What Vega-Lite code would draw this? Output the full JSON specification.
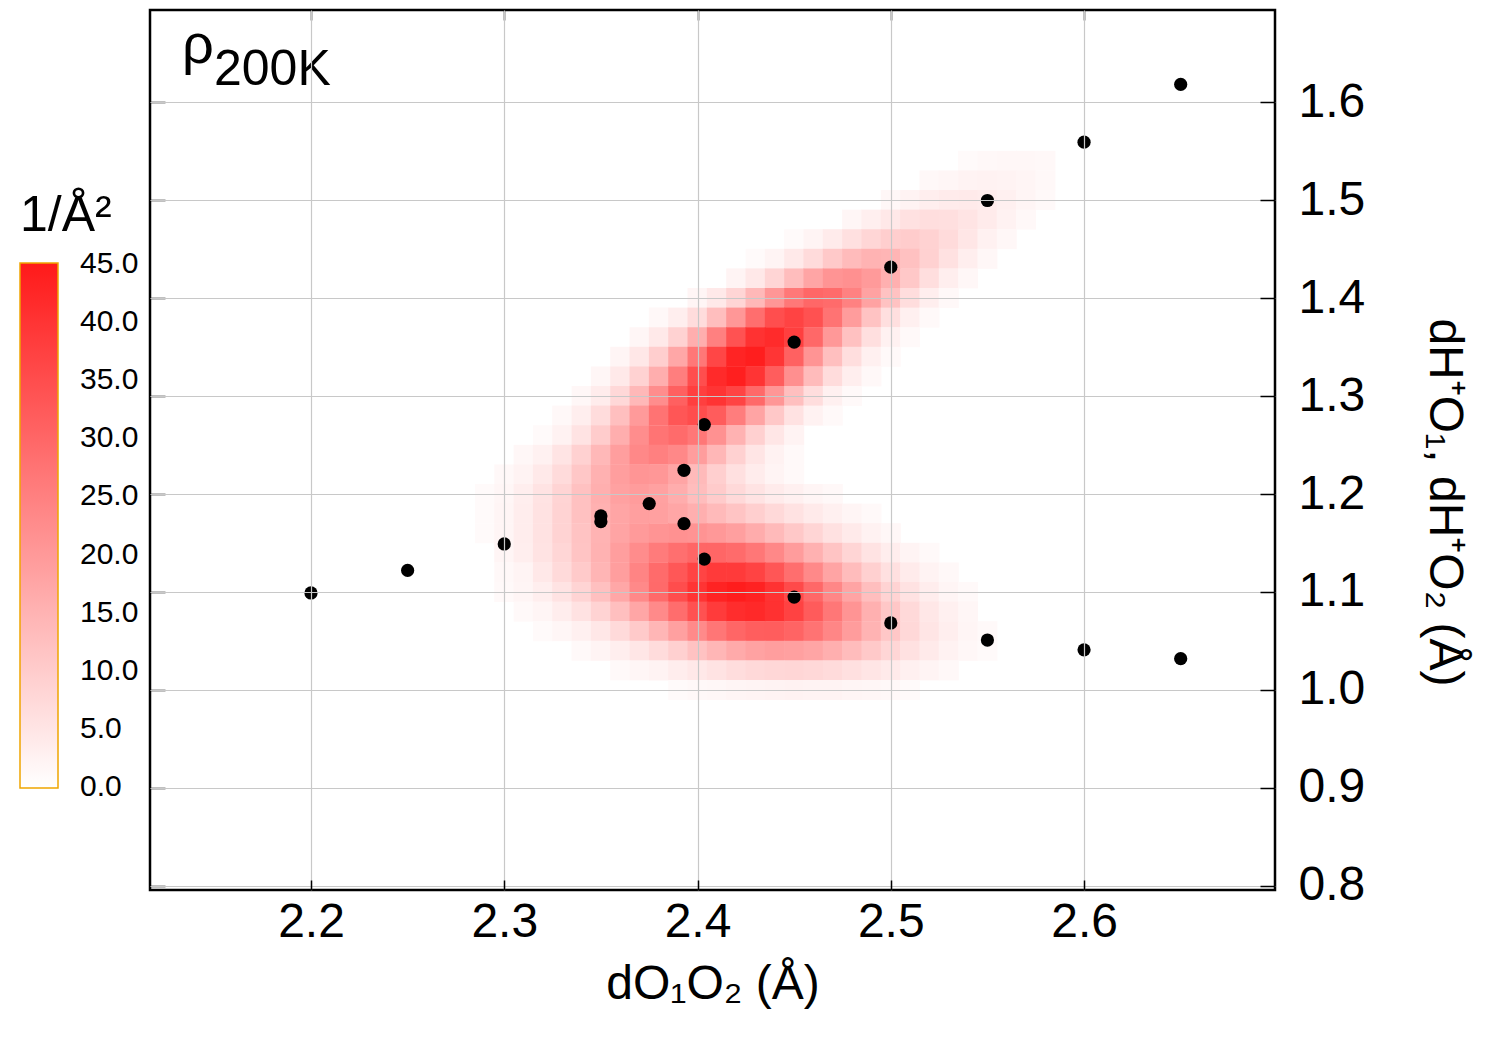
{
"$schema":"https://vega.github.io/schema/vega-lite/v6.json",
"width":1125,"height":880,
"autosize":{"type":"none"},
"padding":{"left":150,"top":10,"right":225,"bottom":160},
"background":"white",
"config":{
"font":"Liberation Sans",
"view":{"stroke":"black","strokeWidth":2.5},
"axis":{"domain":false,"grid":false,"ticks":true,"tickColor":"black","tickWidth":1.5,"labelFont":"Liberation Sans","labelColor":"black","labelFontSize":48,"titleFont":"Liberation Sans","titleFontSize":48,"titleFontWeight":"normal","titleColor":"black","gridColor":"#c8c8c8","gridWidth":1.2,"gridOpacity":1}
},
"datasets":{
"points":[{"x":2.2,"y":1.099},{"x":2.25,"y":1.122},{"x":2.3,"y":1.149},{"x":2.35,"y":1.1776},{"x":2.35,"y":1.1718},{"x":2.375,"y":1.1902},{"x":2.393,"y":1.2242},{"x":2.393,"y":1.1697},{"x":2.4035,"y":1.2708},{"x":2.4035,"y":1.1336},{"x":2.45,"y":1.355},{"x":2.45,"y":1.0948},{"x":2.5,"y":1.4315},{"x":2.5,"y":1.0684},{"x":2.55,"y":1.4995},{"x":2.55,"y":1.051},{"x":2.6,"y":1.559},{"x":2.6,"y":1.041},{"x":2.65,"y":1.618},{"x":2.65,"y":1.032}],
"density":[
{"x":2.54,"y":1.54,"v":1.0},{"x":2.55,"y":1.54,"v":1.3},{"x":2.56,"y":1.54,"v":1.5},{"x":2.57,"y":1.54,"v":1.5},{"x":2.58,"y":1.54,"v":1.3},
{"x":2.52,"y":1.52,"v":1.3},{"x":2.53,"y":1.52,"v":1.8},{"x":2.54,"y":1.52,"v":2.3},{"x":2.55,"y":1.52,"v":2.5},{"x":2.56,"y":1.52,"v":2.4},{"x":2.57,"y":1.52,"v":2.0},{"x":2.58,"y":1.52,"v":1.4},
{"x":2.50,"y":1.50,"v":1.5},{"x":2.51,"y":1.50,"v":2.3},{"x":2.52,"y":1.50,"v":3.2},{"x":2.53,"y":1.50,"v":3.8},{"x":2.54,"y":1.50,"v":4.0},{"x":2.55,"y":1.50,"v":3.6},{"x":2.56,"y":1.50,"v":2.9},{"x":2.57,"y":1.50,"v":2.0},{"x":2.58,"y":1.50,"v":1.2},
{"x":2.48,"y":1.48,"v":1.8},{"x":2.49,"y":1.48,"v":3.1},{"x":2.50,"y":1.48,"v":4.5},{"x":2.51,"y":1.48,"v":5.8},{"x":2.52,"y":1.48,"v":6.5},{"x":2.53,"y":1.48,"v":6.3},{"x":2.54,"y":1.48,"v":5.3},{"x":2.55,"y":1.48,"v":3.9},{"x":2.56,"y":1.48,"v":2.5},{"x":2.57,"y":1.48,"v":1.4},
{"x":2.45,"y":1.46,"v":1.0},{"x":2.46,"y":1.46,"v":2.1},{"x":2.47,"y":1.46,"v":3.8},{"x":2.48,"y":1.46,"v":6.0},{"x":2.49,"y":1.46,"v":8.1},{"x":2.50,"y":1.46,"v":9.6},{"x":2.51,"y":1.46,"v":10.0},{"x":2.52,"y":1.46,"v":8.9},{"x":2.53,"y":1.46,"v":7.0},{"x":2.54,"y":1.46,"v":4.8},{"x":2.55,"y":1.46,"v":2.8},{"x":2.56,"y":1.46,"v":1.5},
{"x":2.43,"y":1.44,"v":1.0},{"x":2.44,"y":1.44,"v":2.2},{"x":2.45,"y":1.44,"v":4.2},{"x":2.46,"y":1.44,"v":7.1},{"x":2.47,"y":1.44,"v":10.5},{"x":2.48,"y":1.44,"v":13.4},{"x":2.49,"y":1.44,"v":14.9},{"x":2.50,"y":1.44,"v":14.5},{"x":2.51,"y":1.44,"v":12.2},{"x":2.52,"y":1.44,"v":9.0},{"x":2.53,"y":1.44,"v":5.8},{"x":2.54,"y":1.44,"v":3.2},{"x":2.55,"y":1.44,"v":1.6},
{"x":2.42,"y":1.42,"v":2.2},{"x":2.43,"y":1.42,"v":4.5},{"x":2.44,"y":1.42,"v":8.2},{"x":2.45,"y":1.42,"v":12.9},{"x":2.46,"y":1.42,"v":17.7},{"x":2.47,"y":1.42,"v":21.1},{"x":2.48,"y":1.42,"v":21.9},{"x":2.49,"y":1.42,"v":19.8},{"x":2.50,"y":1.42,"v":15.6},{"x":2.51,"y":1.42,"v":10.8},{"x":2.52,"y":1.42,"v":6.4},{"x":2.53,"y":1.42,"v":3.3},{"x":2.54,"y":1.42,"v":1.5},
{"x":2.40,"y":1.40,"v":1.9},{"x":2.41,"y":1.40,"v":4.3},{"x":2.42,"y":1.40,"v":8.2},{"x":2.43,"y":1.40,"v":13.9},{"x":2.44,"y":1.40,"v":20.6},{"x":2.45,"y":1.40,"v":26.5},{"x":2.46,"y":1.40,"v":29.8},{"x":2.47,"y":1.40,"v":29.1},{"x":2.48,"y":1.40,"v":24.8},{"x":2.49,"y":1.40,"v":18.3},{"x":2.50,"y":1.40,"v":11.9},{"x":2.51,"y":1.40,"v":6.7},{"x":2.52,"y":1.40,"v":3.2},{"x":2.53,"y":1.40,"v":1.4},
{"x":2.38,"y":1.38,"v":1.3},{"x":2.39,"y":1.38,"v":3.2},{"x":2.40,"y":1.38,"v":6.9},{"x":2.41,"y":1.38,"v":12.7},{"x":2.42,"y":1.38,"v":20.4},{"x":2.43,"y":1.38,"v":28.6},{"x":2.44,"y":1.38,"v":34.8},{"x":2.45,"y":1.38,"v":37.0},{"x":2.46,"y":1.38,"v":34.2},{"x":2.47,"y":1.38,"v":27.6},{"x":2.48,"y":1.38,"v":19.4},{"x":2.49,"y":1.38,"v":11.8},{"x":2.50,"y":1.38,"v":6.3},{"x":2.51,"y":1.38,"v":2.9},{"x":2.52,"y":1.38,"v":1.2},
{"x":2.37,"y":1.36,"v":1.8},{"x":2.38,"y":1.36,"v":4.3},{"x":2.39,"y":1.36,"v":8.9},{"x":2.40,"y":1.36,"v":15.9},{"x":2.41,"y":1.36,"v":24.9},{"x":2.42,"y":1.36,"v":34.1},{"x":2.43,"y":1.36,"v":40.4},{"x":2.44,"y":1.36,"v":41.8},{"x":2.45,"y":1.36,"v":37.7},{"x":2.46,"y":1.36,"v":29.6},{"x":2.47,"y":1.36,"v":20.2},{"x":2.48,"y":1.36,"v":12.1},{"x":2.49,"y":1.36,"v":6.2},{"x":2.50,"y":1.36,"v":2.8},{"x":2.51,"y":1.36,"v":1.1},
{"x":2.36,"y":1.34,"v":2.0},{"x":2.37,"y":1.34,"v":4.7},{"x":2.38,"y":1.34,"v":9.6},{"x":2.39,"y":1.34,"v":17.2},{"x":2.40,"y":1.34,"v":26.8},{"x":2.41,"y":1.34,"v":36.4},{"x":2.42,"y":1.34,"v":43.0},{"x":2.43,"y":1.34,"v":44.2},{"x":2.44,"y":1.34,"v":39.7},{"x":2.45,"y":1.34,"v":31.0},{"x":2.46,"y":1.34,"v":21.0},{"x":2.47,"y":1.34,"v":12.5},{"x":2.48,"y":1.34,"v":6.5},{"x":2.49,"y":1.34,"v":2.9},{"x":2.50,"y":1.34,"v":1.1},
{"x":2.35,"y":1.32,"v":1.8},{"x":2.36,"y":1.32,"v":4.2},{"x":2.37,"y":1.32,"v":8.8},{"x":2.38,"y":1.32,"v":16.0},{"x":2.39,"y":1.32,"v":25.3},{"x":2.40,"y":1.32,"v":34.9},{"x":2.41,"y":1.32,"v":41.9},{"x":2.42,"y":1.32,"v":44.0},{"x":2.43,"y":1.32,"v":40.0},{"x":2.44,"y":1.32,"v":31.8},{"x":2.45,"y":1.32,"v":22.0},{"x":2.46,"y":1.32,"v":13.3},{"x":2.47,"y":1.32,"v":6.9},{"x":2.48,"y":1.32,"v":3.2},{"x":2.49,"y":1.32,"v":1.3},
{"x":2.34,"y":1.30,"v":1.5},{"x":2.35,"y":1.30,"v":3.6},{"x":2.36,"y":1.30,"v":7.6},{"x":2.37,"y":1.30,"v":14.0},{"x":2.38,"y":1.30,"v":22.4},{"x":2.39,"y":1.30,"v":31.2},{"x":2.40,"y":1.30,"v":37.8},{"x":2.41,"y":1.30,"v":40.0},{"x":2.42,"y":1.30,"v":36.8},{"x":2.43,"y":1.30,"v":29.5},{"x":2.44,"y":1.30,"v":20.6},{"x":2.45,"y":1.30,"v":12.6},{"x":2.46,"y":1.30,"v":6.6},{"x":2.47,"y":1.30,"v":3.0},{"x":2.48,"y":1.30,"v":1.2},
{"x":2.33,"y":1.28,"v":1.3},{"x":2.34,"y":1.28,"v":3.2},{"x":2.35,"y":1.28,"v":6.8},{"x":2.36,"y":1.28,"v":12.5},{"x":2.37,"y":1.28,"v":19.8},{"x":2.38,"y":1.28,"v":27.5},{"x":2.39,"y":1.28,"v":33.3},{"x":2.40,"y":1.28,"v":35.0},{"x":2.41,"y":1.28,"v":32.0},{"x":2.42,"y":1.28,"v":25.6},{"x":2.43,"y":1.28,"v":17.8},{"x":2.44,"y":1.28,"v":10.7},{"x":2.45,"y":1.28,"v":5.7},{"x":2.46,"y":1.28,"v":2.6},{"x":2.47,"y":1.28,"v":1.1},
{"x":2.32,"y":1.26,"v":1.0},{"x":2.33,"y":1.26,"v":2.6},{"x":2.34,"y":1.26,"v":5.4},{"x":2.35,"y":1.26,"v":9.9},{"x":2.36,"y":1.26,"v":16.0},{"x":2.37,"y":1.26,"v":22.4},{"x":2.38,"y":1.26,"v":27.3},{"x":2.39,"y":1.26,"v":29.0},{"x":2.40,"y":1.26,"v":26.8},{"x":2.41,"y":1.26,"v":21.6},{"x":2.42,"y":1.26,"v":15.1},{"x":2.43,"y":1.26,"v":9.2},{"x":2.44,"y":1.26,"v":4.9},{"x":2.45,"y":1.26,"v":2.3},
{"x":2.31,"y":1.24,"v":1.5},{"x":2.32,"y":1.24,"v":2.8},{"x":2.33,"y":1.24,"v":5.2},{"x":2.34,"y":1.24,"v":9.0},{"x":2.35,"y":1.24,"v":13.9},{"x":2.36,"y":1.24,"v":19.1},{"x":2.37,"y":1.24,"v":23.3},{"x":2.38,"y":1.24,"v":25.0},{"x":2.39,"y":1.24,"v":23.4},{"x":2.40,"y":1.24,"v":19.3},{"x":2.41,"y":1.24,"v":14.1},{"x":2.42,"y":1.24,"v":9.0},{"x":2.43,"y":1.24,"v":5.1},{"x":2.44,"y":1.24,"v":2.6},{"x":2.45,"y":1.24,"v":1.2},
{"x":2.30,"y":1.22,"v":1.3},{"x":2.31,"y":1.22,"v":2.4},{"x":2.32,"y":1.22,"v":4.3},{"x":2.33,"y":1.22,"v":7.1},{"x":2.34,"y":1.22,"v":11.0},{"x":2.35,"y":1.22,"v":15.3},{"x":2.36,"y":1.22,"v":19.0},{"x":2.37,"y":1.22,"v":20.9},{"x":2.38,"y":1.22,"v":20.4},{"x":2.39,"y":1.22,"v":17.7},{"x":2.40,"y":1.22,"v":13.6},{"x":2.41,"y":1.22,"v":9.4},{"x":2.42,"y":1.22,"v":6.0},{"x":2.43,"y":1.22,"v":3.6},{"x":2.44,"y":1.22,"v":2.1},{"x":2.45,"y":1.22,"v":1.2},
{"x":2.29,"y":1.20,"v":1.0},{"x":2.30,"y":1.20,"v":1.8},{"x":2.31,"y":1.20,"v":3.2},{"x":2.32,"y":1.20,"v":5.4},{"x":2.33,"y":1.20,"v":8.5},{"x":2.34,"y":1.20,"v":12.2},{"x":2.35,"y":1.20,"v":15.8},{"x":2.36,"y":1.20,"v":18.4},{"x":2.37,"y":1.20,"v":19.4},{"x":2.38,"y":1.20,"v":18.4},{"x":2.39,"y":1.20,"v":16.1},{"x":2.40,"y":1.20,"v":13.0},{"x":2.41,"y":1.20,"v":10.1},{"x":2.42,"y":1.20,"v":7.5},{"x":2.43,"y":1.20,"v":5.5},{"x":2.44,"y":1.20,"v":3.9},{"x":2.45,"y":1.20,"v":2.9},{"x":2.46,"y":1.20,"v":1.9},{"x":2.47,"y":1.20,"v":1.3},
{"x":2.29,"y":1.18,"v":1.0},{"x":2.30,"y":1.18,"v":2.0},{"x":2.31,"y":1.18,"v":3.4},{"x":2.32,"y":1.18,"v":5.7},{"x":2.33,"y":1.18,"v":8.7},{"x":2.34,"y":1.18,"v":12.1},{"x":2.35,"y":1.18,"v":15.4},{"x":2.36,"y":1.18,"v":17.7},{"x":2.37,"y":1.18,"v":18.9},{"x":2.38,"y":1.18,"v":18.6},{"x":2.39,"y":1.18,"v":17.4},{"x":2.40,"y":1.18,"v":15.7},{"x":2.41,"y":1.18,"v":13.6},{"x":2.42,"y":1.18,"v":11.5},{"x":2.43,"y":1.18,"v":9.5},{"x":2.44,"y":1.18,"v":7.4},{"x":2.45,"y":1.18,"v":5.7},{"x":2.46,"y":1.18,"v":4.1},{"x":2.47,"y":1.18,"v":2.9},{"x":2.48,"y":1.18,"v":1.9},{"x":2.49,"y":1.18,"v":1.2},
{"x":2.29,"y":1.16,"v":1.0},{"x":2.30,"y":1.16,"v":2.0},{"x":2.31,"y":1.16,"v":3.5},{"x":2.32,"y":1.16,"v":5.7},{"x":2.33,"y":1.16,"v":8.6},{"x":2.34,"y":1.16,"v":11.8},{"x":2.35,"y":1.16,"v":15.0},{"x":2.36,"y":1.16,"v":17.8},{"x":2.37,"y":1.16,"v":19.8},{"x":2.38,"y":1.16,"v":21.1},{"x":2.39,"y":1.16,"v":21.6},{"x":2.40,"y":1.16,"v":21.3},{"x":2.41,"y":1.16,"v":20.3},{"x":2.42,"y":1.16,"v":18.9},{"x":2.43,"y":1.16,"v":16.2},{"x":2.44,"y":1.16,"v":13.6},{"x":2.45,"y":1.16,"v":10.8},{"x":2.46,"y":1.16,"v":8.2},{"x":2.47,"y":1.16,"v":5.9},{"x":2.48,"y":1.16,"v":4.0},{"x":2.49,"y":1.16,"v":2.6},{"x":2.50,"y":1.16,"v":1.6},
{"x":2.30,"y":1.14,"v":1.9},{"x":2.31,"y":1.14,"v":3.3},{"x":2.32,"y":1.14,"v":5.4},{"x":2.33,"y":1.14,"v":8.1},{"x":2.34,"y":1.14,"v":11.5},{"x":2.35,"y":1.14,"v":15.2},{"x":2.36,"y":1.14,"v":19.0},{"x":2.37,"y":1.14,"v":22.6},{"x":2.38,"y":1.14,"v":25.9},{"x":2.39,"y":1.14,"v":28.4},{"x":2.40,"y":1.14,"v":30.0},{"x":2.41,"y":1.14,"v":30.0},{"x":2.42,"y":1.14,"v":29.1},{"x":2.43,"y":1.14,"v":26.8},{"x":2.44,"y":1.14,"v":23.4},{"x":2.45,"y":1.14,"v":19.4},{"x":2.46,"y":1.14,"v":15.3},{"x":2.47,"y":1.14,"v":11.5},{"x":2.48,"y":1.14,"v":8.2},{"x":2.49,"y":1.14,"v":5.5},{"x":2.50,"y":1.14,"v":3.5},{"x":2.51,"y":1.14,"v":2.1},{"x":2.52,"y":1.14,"v":1.2},
{"x":2.30,"y":1.12,"v":1.3},{"x":2.31,"y":1.12,"v":2.2},{"x":2.32,"y":1.12,"v":4.5},{"x":2.33,"y":1.12,"v":7.2},{"x":2.34,"y":1.12,"v":10.4},{"x":2.35,"y":1.12,"v":14.5},{"x":2.36,"y":1.12,"v":19.1},{"x":2.37,"y":1.12,"v":24.1},{"x":2.38,"y":1.12,"v":29.1},{"x":2.39,"y":1.12,"v":33.1},{"x":2.40,"y":1.12,"v":36.7},{"x":2.41,"y":1.12,"v":38.7},{"x":2.42,"y":1.12,"v":38.8},{"x":2.43,"y":1.12,"v":36.9},{"x":2.44,"y":1.12,"v":33.3},{"x":2.45,"y":1.12,"v":28.5},{"x":2.46,"y":1.12,"v":23.2},{"x":2.47,"y":1.12,"v":17.9},{"x":2.48,"y":1.12,"v":13.2},{"x":2.49,"y":1.12,"v":9.2},{"x":2.50,"y":1.12,"v":6.1},{"x":2.51,"y":1.12,"v":3.8},{"x":2.52,"y":1.12,"v":2.3},{"x":2.53,"y":1.12,"v":1.3},
{"x":2.30,"y":1.10,"v":1.1},{"x":2.31,"y":1.10,"v":1.9},{"x":2.32,"y":1.10,"v":3.3},{"x":2.33,"y":1.10,"v":5.4},{"x":2.34,"y":1.10,"v":8.4},{"x":2.35,"y":1.10,"v":12.3},{"x":2.36,"y":1.10,"v":17.3},{"x":2.37,"y":1.10,"v":23.1},{"x":2.38,"y":1.10,"v":29.2},{"x":2.39,"y":1.10,"v":35.1},{"x":2.40,"y":1.10,"v":40.0},{"x":2.41,"y":1.10,"v":43.3},{"x":2.42,"y":1.10,"v":44.5},{"x":2.43,"y":1.10,"v":43.4},{"x":2.44,"y":1.10,"v":40.3},{"x":2.45,"y":1.10,"v":35.5},{"x":2.46,"y":1.10,"v":29.6},{"x":2.47,"y":1.10,"v":23.5},{"x":2.48,"y":1.10,"v":17.8},{"x":2.49,"y":1.10,"v":12.7},{"x":2.50,"y":1.10,"v":8.6},{"x":2.51,"y":1.10,"v":5.6},{"x":2.52,"y":1.10,"v":3.4},{"x":2.53,"y":1.10,"v":2.0},{"x":2.54,"y":1.10,"v":1.1},
{"x":2.31,"y":1.08,"v":1.1},{"x":2.32,"y":1.08,"v":2.0},{"x":2.33,"y":1.08,"v":3.5},{"x":2.34,"y":1.08,"v":5.6},{"x":2.35,"y":1.08,"v":8.7},{"x":2.36,"y":1.08,"v":12.6},{"x":2.37,"y":1.08,"v":17.5},{"x":2.38,"y":1.08,"v":23.0},{"x":2.39,"y":1.08,"v":28.8},{"x":2.40,"y":1.08,"v":34.2},{"x":2.41,"y":1.08,"v":38.6},{"x":2.42,"y":1.08,"v":41.3},{"x":2.43,"y":1.08,"v":42.0},{"x":2.44,"y":1.08,"v":40.5},{"x":2.45,"y":1.08,"v":37.1},{"x":2.46,"y":1.08,"v":32.3},{"x":2.47,"y":1.08,"v":26.7},{"x":2.48,"y":1.08,"v":21.0},{"x":2.49,"y":1.08,"v":15.6},{"x":2.50,"y":1.08,"v":11.0},{"x":2.51,"y":1.08,"v":7.4},{"x":2.52,"y":1.08,"v":4.7},{"x":2.53,"y":1.08,"v":2.9},{"x":2.54,"y":1.08,"v":1.7},
{"x":2.32,"y":1.06,"v":1.0},{"x":2.33,"y":1.06,"v":1.8},{"x":2.34,"y":1.06,"v":3.0},{"x":2.35,"y":1.06,"v":4.7},{"x":2.36,"y":1.06,"v":7.2},{"x":2.37,"y":1.06,"v":10.4},{"x":2.38,"y":1.06,"v":14.3},{"x":2.39,"y":1.06,"v":18.6},{"x":2.40,"y":1.06,"v":22.9},{"x":2.41,"y":1.06,"v":26.9},{"x":2.42,"y":1.06,"v":30.0},{"x":2.43,"y":1.06,"v":31.7},{"x":2.44,"y":1.06,"v":31.9},{"x":2.45,"y":1.06,"v":30.4},{"x":2.46,"y":1.06,"v":27.5},{"x":2.47,"y":1.06,"v":23.7},{"x":2.48,"y":1.06,"v":19.4},{"x":2.49,"y":1.06,"v":15.0},{"x":2.50,"y":1.06,"v":11.0},{"x":2.51,"y":1.06,"v":7.7},{"x":2.52,"y":1.06,"v":5.1},{"x":2.53,"y":1.06,"v":3.2},{"x":2.54,"y":1.06,"v":1.9},{"x":2.55,"y":1.06,"v":1.1},
{"x":2.34,"y":1.04,"v":1.2},{"x":2.35,"y":1.04,"v":2.1},{"x":2.36,"y":1.04,"v":3.3},{"x":2.37,"y":1.04,"v":4.9},{"x":2.38,"y":1.04,"v":6.9},{"x":2.39,"y":1.04,"v":9.3},{"x":2.40,"y":1.04,"v":11.9},{"x":2.41,"y":1.04,"v":14.4},{"x":2.42,"y":1.04,"v":16.6},{"x":2.43,"y":1.04,"v":18.2},{"x":2.44,"y":1.04,"v":19.0},{"x":2.45,"y":1.04,"v":18.7},{"x":2.46,"y":1.04,"v":17.6},{"x":2.47,"y":1.04,"v":15.7},{"x":2.48,"y":1.04,"v":13.2},{"x":2.49,"y":1.04,"v":10.6},{"x":2.50,"y":1.04,"v":8.1},{"x":2.51,"y":1.04,"v":5.9},{"x":2.52,"y":1.04,"v":4.0},{"x":2.53,"y":1.04,"v":2.6},{"x":2.54,"y":1.04,"v":1.6},{"x":2.55,"y":1.04,"v":1.0},
{"x":2.36,"y":1.02,"v":1.1},{"x":2.37,"y":1.02,"v":1.7},{"x":2.38,"y":1.02,"v":2.4},{"x":2.39,"y":1.02,"v":3.4},{"x":2.40,"y":1.02,"v":4.4},{"x":2.41,"y":1.02,"v":5.5},{"x":2.42,"y":1.02,"v":6.6},{"x":2.43,"y":1.02,"v":7.4},{"x":2.44,"y":1.02,"v":7.9},{"x":2.45,"y":1.02,"v":8.0},{"x":2.46,"y":1.02,"v":7.7},{"x":2.47,"y":1.02,"v":7.0},{"x":2.48,"y":1.02,"v":6.1},{"x":2.49,"y":1.02,"v":5.0},{"x":2.50,"y":1.02,"v":4.0},{"x":2.51,"y":1.02,"v":2.9},{"x":2.52,"y":1.02,"v":2.1},{"x":2.53,"y":1.02,"v":1.4},
{"x":2.39,"y":1.00,"v":1.0},{"x":2.40,"y":1.00,"v":1.3},{"x":2.41,"y":1.00,"v":1.6},{"x":2.42,"y":1.00,"v":2.0},{"x":2.43,"y":1.00,"v":2.2},{"x":2.44,"y":1.00,"v":2.4},{"x":2.45,"y":1.00,"v":2.5},{"x":2.46,"y":1.00,"v":2.4},{"x":2.47,"y":1.00,"v":2.3},{"x":2.48,"y":1.00,"v":2.0},{"x":2.49,"y":1.00,"v":1.7},{"x":2.50,"y":1.00,"v":1.3},{"x":2.51,"y":1.00,"v":1.0}
]
},
"layer":[
{"data":{"name":"density"},
"mark":{"type":"rect","width":20,"height":20},
"encoding":{
"x":{"field":"x","type":"quantitative","scale":{"domain":[2.1167,2.6988],"nice":false,"zero":false},
"axis":{"orient":"bottom","values":[2.2,2.3,2.4,2.5,2.6],"format":".1f","grid":true,"tickSize":-10,"labelPadding":18,"title":"dO₁O₂ (Å)","titlePadding":14,"zindex":1}},
"y":{"field":"y","type":"quantitative","scale":{"domain":[0.7959,1.6939],"nice":false,"zero":false},
"axis":{"orient":"right","values":[0.8,0.9,1.0,1.1,1.2,1.3,1.4,1.5,1.6],"format":".1f","grid":true,"tickSize":-15,"labelPadding":38,"title":"dH⁺O₁, dH⁺O₂ (Å)","titlePadding":55,"titleY":492,"zindex":1}},
"color":{"field":"v","type":"quantitative","scale":{"domain":[-0.05,45.05],"range":["#ffffff","#ff1a1a"],"interpolate":"rgb"},
"legend":{"title":"1/Å²","orient":"none","legendX":-130,"legendY":181,"direction":"vertical","gradientLength":525,"gradientThickness":38,"gradientStrokeColor":"#f0a500","gradientStrokeWidth":1.5,"values":[0,5,10,15,20,25,30,35,40,45],"format":".1f","labelFontSize":30,"labelOffset":22,"labelColor":"black","labelFont":"Liberation Sans","labelOverlap":false,"titleFontSize":50,"titleFontWeight":"normal","titleColor":"black","titleFont":"Liberation Sans","titlePadding":22,"titleAnchor":"start"}}
}},
{"data":{"name":"points"},
"mark":{"type":"circle","size":175,"color":"black","opacity":1},
"encoding":{
"x":{"field":"x","type":"quantitative","axis":{"orient":"top","values":[2.2,2.3,2.4,2.5,2.6],"labels":false,"tickSize":-10,"title":null,"grid":false}},
"y":{"field":"y","type":"quantitative","axis":{"orient":"left","values":[0.8,0.9,1.0,1.1,1.2,1.3,1.4,1.5,1.6],"labels":false,"tickSize":-15,"title":null,"grid":false}}
}},
{"data":{"values":[{"label":"ρ"}]},
"mark":{"type":"text","fontSize":56,"align":"left","baseline":"alphabetic","font":"Liberation Sans","color":"black"},
"encoding":{"x":{"datum":2.1333,"type":"quantitative","axis":null},"y":{"datum":1.6398,"type":"quantitative","axis":null},"text":{"field":"label"}}},
{"data":{"values":[{"label":"200K"}]},
"mark":{"type":"text","fontSize":50,"align":"left","baseline":"alphabetic","font":"Liberation Sans","color":"black"},
"encoding":{"x":{"datum":2.1498,"type":"quantitative","axis":null},"y":{"datum":1.6173,"type":"quantitative","axis":null},"text":{"field":"label"}}}
],
"resolve":{"axis":{"x":"independent","y":"independent"}}
}
